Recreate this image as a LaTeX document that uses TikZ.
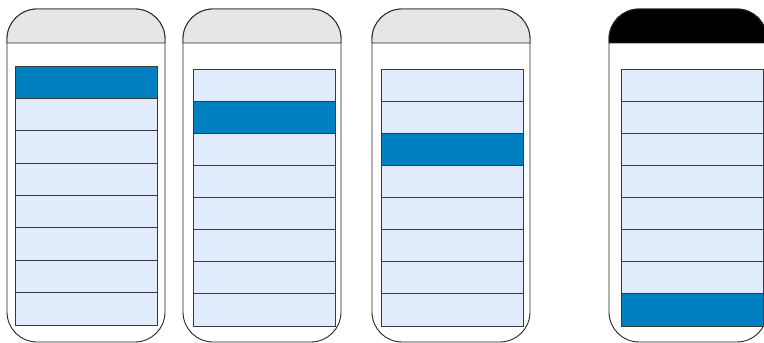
\documentclass[tikz,border=0pt]{standalone}
\usepackage{xcolor}
\usepackage{tikz}
\usetikzlibrary{positioning}
\definecolor{rowblue}{HTML}{E0ECFC}
\definecolor{pickblue}{HTML}{0080C0}
\definecolor{hdrgray}{HTML}{E6E6E6}
\definecolor{edgegray}{HTML}{36393D}

\begin{document}
\begin{tikzpicture}[x=1pt, y=1pt,
    body/.style={draw=black!85, line width=0.9pt, rounded corners=30pt},
    hdr/.style={draw=black!85, line width=0.9pt},
    listrow/.style={rectangle, draw=edgegray, line width=0.9pt, minimum width=142pt,
                    inner sep=0pt, outer sep=0pt}
]
    \useasboundingbox (0,0) rectangle (764,343);
    \clip (0,0) rectangle (764,343);

    % Phones: number / body x / list x / picked row / list top / list bottom / header colour
    \foreach \i/\x/\lx/\sel/\top/\bot/\hc in {1/7/15/1/277/18/hdrgray, 2/183/193/2/274/17/hdrgray,
                                              3/372/381/3/274/17/hdrgray, 4/609/621/8/274/17/black} {
        \draw[body] (\x,1) rectangle (\x+158,334);
        \filldraw[hdr, fill=\hc] (\x,300) [rounded corners=30pt] -- (\x,334) -- (\x+158,334)
            [sharp corners] -- (\x+158,300) -- cycle;

        % List rows
        \pgfmathsetmacro{\rh}{(\top-\bot)/8}
        \ifnum\sel=1 \def\fc{pickblue}\else\def\fc{rowblue}\fi
        \node[listrow, fill=\fc, minimum height=\rh pt, anchor=north west] (r\i-1) at (\lx,\top) {};
        \foreach \j [count=\k] in {2,...,8} {
            \ifnum\sel=\j \def\fc{pickblue}\else\def\fc{rowblue}\fi
            \node[listrow, fill=\fc, minimum height=\rh pt, below=0pt of r\i-\k] (r\i-\j) {};
        }
    }
\end{tikzpicture}
\end{document}
